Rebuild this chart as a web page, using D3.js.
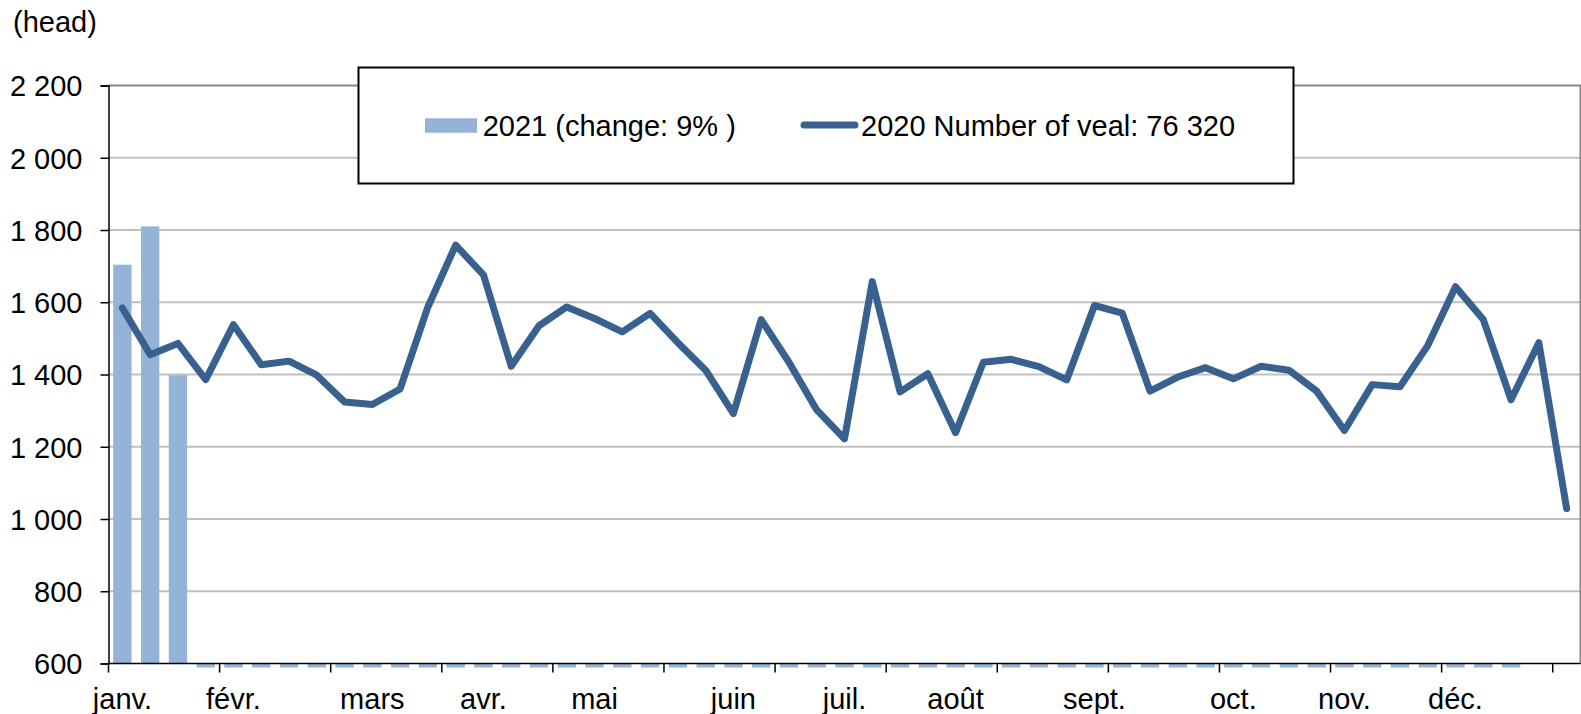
<!DOCTYPE html>
<html>
<head>
<meta charset="utf-8">
<script src="https://cdn.jsdelivr.net/npm/d3@7"></script>
<style>
  body { margin: 0; background: #fff; }
  svg text { font-family: "Liberation Sans", Arial, sans-serif; font-size: 29px; fill: #000; }
</style>
</head>
<body>
<svg width="1581" height="714"></svg>
<script>
// weekly categories (53 weeks), month name on the first week of each month
var weeks = d3.range(53);
var monthNames = ["janv.", "févr.", "mars", "avr.", "mai", "juin", "juil.", "août", "sept.", "oct.", "nov.", "déc."];
var monthWeeks = [0, 4, 9, 13, 17, 22, 26, 30, 35, 40, 44, 48];

var values2020 = [1584, 1455, 1486, 1386, 1538, 1427, 1437, 1398, 1324, 1317, 1360, 1587, 1758, 1676,
                  1423, 1535, 1587, 1555, 1518, 1569, 1488, 1412, 1292, 1552, 1434, 1302, 1222, 1657,
                  1352, 1402, 1239, 1434, 1442, 1422, 1385, 1591, 1570, 1354, 1393, 1419, 1388, 1423,
                  1412, 1354, 1245, 1372, 1366, 1480, 1643, 1552, 1330, 1488, 1029];

var values2021 = [1704, 1810, 1398,
                  0, 0, 0, 0, 0, 0, 0, 0, 0, 0, 0, 0, 0, 0, 0, 0, 0, 0, 0, 0, 0, 0, 0, 0,
                  0, 0, 0, 0, 0, 0, 0, 0, 0, 0, 0, 0, 0, 0, 0, 0, 0, 0, 0, 0, 0, 0, 0, 0,
                  null, null];

var yTicks = [600, 800, 1000, 1200, 1400, 1600, 1800, 2000, 2200];

var legend2021 = "2021 (change: 9% )";
var legend2020 = "2020 Number of veal: 76 320";

var plotL = 108.5, plotR = 1580.5, plotT = 85.5, plotB = 663.5;
var barColor = "#95b3d7", lineColor = "#38618f";

var svg = d3.select("svg");

var x = d3.scaleBand().domain(weeks).range([plotL, plotR]).padding(0);
var xBar = d3.scaleBand().domain(weeks).range([plotL, plotR])
              .paddingInner(0.34).paddingOuter(0.17);
var y = d3.scaleLinear().domain([600, 2200]).range([plotB, plotT]);

var fmt = d3.formatLocale({ decimal: ",", thousands: " ", grouping: [3], currency: ["", ""] }).format(",d");

// gridlines
svg.append("g")
  .selectAll("line")
  .data(yTicks.filter(d => d > 600 && d < 2200))
  .enter()
  .append("line")
    .attr("x1", plotL).attr("x2", plotR)
    .attr("y1", d => y(d)).attr("y2", d => y(d))
    .attr("stroke", "#c0c0c0")
    .attr("stroke-width", 2);

// plot area border (top + right)
svg.append("path")
  .attr("d", "M" + plotL + "," + y(2200) + "H" + plotR + "V" + plotB)
  .attr("fill", "none")
  .attr("stroke", "#868686")
  .attr("stroke-width", 2);

// bars, clipped just below the axis like the original
svg.append("clipPath").attr("id", "plotclip")
  .append("rect")
    .attr("x", plotL).attr("y", plotT)
    .attr("width", plotR - plotL).attr("height", plotB - plotT + 4);

svg.append("g")
  .attr("clip-path", "url(#plotclip)")
  .selectAll("rect")
  .data(weeks.filter(i => values2021[i] != null))
  .enter()
  .append("rect")
    .attr("x", i => xBar(i))
    .attr("width", xBar.bandwidth())
    .attr("y", i => Math.min(y(values2021[i]), plotB))
    .attr("height", i => Math.abs(y(values2021[i]) - plotB))
    .attr("fill", barColor);

// y axis
var yAxis = svg.append("g")
  .attr("transform", "translate(" + plotL + ",0)")
  .call(d3.axisLeft(y).tickValues(yTicks).tickFormat(fmt).tickSize(8).tickPadding(18));
yAxis.select(".domain").attr("stroke", "#000").attr("stroke-width", 1.5);
yAxis.selectAll(".tick line").attr("stroke", "#000").attr("stroke-width", 1.5);
yAxis.attr("font-size", null).attr("font-family", null);
yAxis.selectAll("text").attr("dy", "0.36em");

// x axis line
svg.append("line")
  .attr("x1", plotL).attr("x2", plotR)
  .attr("y1", plotB).attr("y2", plotB)
  .attr("stroke", "#000")
  .attr("stroke-width", 1.5);

// tick marks every 4 weeks
svg.append("g")
  .selectAll("line")
  .data(d3.range(0, 53, 4))
  .enter()
  .append("line")
    .attr("x1", d => x(d)).attr("x2", d => x(d))
    .attr("y1", plotB).attr("y2", plotB + 9)
    .attr("stroke", "#000")
    .attr("stroke-width", 1.5);

// month labels
svg.append("g")
  .selectAll("text")
  .data(monthWeeks)
  .enter()
  .append("text")
    .attr("x", d => x(d) + x.bandwidth() / 2)
    .attr("y", 709)
    .attr("text-anchor", "middle")
    .text((d, i) => monthNames[i]);

// 2020 line
var line = d3.line()
  .x((d, i) => x(i) + x.bandwidth() / 2)
  .y(d => y(d));

svg.append("path")
  .datum(values2020)
  .attr("d", line)
  .attr("fill", "none")
  .attr("stroke", lineColor)
  .attr("stroke-width", 7)
  .attr("stroke-linejoin", "round")
  .attr("stroke-linecap", "round");

// unit label
svg.append("text").attr("x", 13).attr("y", 32).text("(head)");

// legend
var lg = svg.append("g");
lg.append("rect")
  .attr("x", 358.5).attr("y", 67.5)
  .attr("width", 935).attr("height", 116)
  .attr("fill", "#fff")
  .attr("stroke", "#000")
  .attr("stroke-width", 2);
lg.append("rect")
  .attr("x", 425).attr("y", 118.3)
  .attr("width", 52).attr("height", 14.4)
  .attr("fill", barColor);
lg.append("text").attr("x", 482.7).attr("y", 135.7).text(legend2021);
lg.append("line")
  .attr("x1", 804).attr("x2", 855)
  .attr("y1", 125).attr("y2", 125)
  .attr("stroke", lineColor)
  .attr("stroke-width", 7)
  .attr("stroke-linecap", "round");
lg.append("text").attr("x", 861).attr("y", 135.7).text(legend2020);
</script>
</body>
</html>
